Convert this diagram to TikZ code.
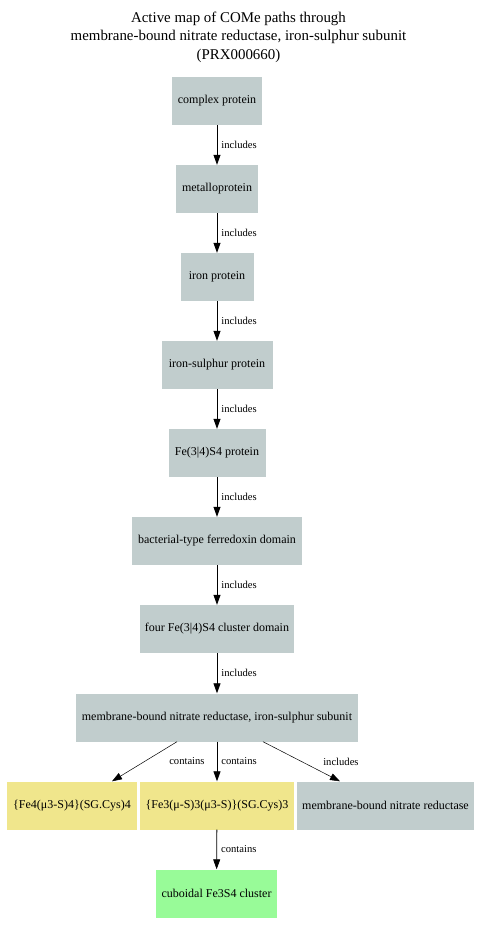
\documentclass[tikz,border=0pt]{standalone}
\usepackage{fontspec}
\setmainfont{Liberation Serif}
\usetikzlibrary{arrows.meta}
\definecolor{nodegray}{HTML}{C1CDCD}
\definecolor{nodekhaki}{HTML}{F0E68C}
\definecolor{nodegreen}{HTML}{98FB98}
\begin{document}
\begin{tikzpicture}[x=1pt,y=-1pt,
  box/.style={fill=nodegray,draw=none,minimum height=48,inner xsep=4,
    font=\fontsize{12}{13}\selectfont},
  chem/.style={box,fill=nodekhaki},
  cluster/.style={box,fill=nodegreen},
  rel/.style={-{Triangle[length=10pt,width=7pt]},line width=0.8pt},
  lbl/.style={font=\fontsize{10.6}{12}\selectfont,inner sep=0pt},
]
\useasboundingbox (0,0) rectangle (478,934);
% title
\node[font=\fontsize{14.9}{18.5}\selectfont,align=center] (title) at (238.5,37)
  {Active map of COMe paths through\\membrane-bound nitrate reductase, iron-sulphur subunit\\(PRX000660)};
% hierarchy
\node[box,minimum width=90] (cp) at (217,101) {complex protein};
\node[box,minimum width=82] (mp) at (217,189) {metalloprotein};
\node[box,minimum width=73] (ip) at (217,277) {iron protein};
\node[box,minimum width=111] (isp) at (217,365) {iron-sulphur protein};
\node[box,minimum width=97] (fsp) at (217,453) {Fe(3|4)S4 protein};
\node[box,minimum width=170] (bfd) at (217,541) {bacterial-type ferredoxin domain};
\node[box,minimum width=154] (fcd) at (217,629) {four Fe(3|4)S4 cluster domain};
\node[box,minimum width=282] (nrs) at (217,717.5) {membrane-bound nitrate reductase, iron-sulphur subunit};
\node[chem,minimum width=130] (fe4) at (72,805.5) {\{Fe4(μ3-S)4\}(SG.Cys)4};
\node[chem,minimum width=154] (fe3) at (217,805.5) {\{Fe3(μ-S)3(μ3-S)\}(SG.Cys)3};
\node[box,minimum width=177] (nr) at (385.5,805.5) {membrane-bound nitrate reductase};
\node[cluster,minimum width=121] (cub) at (216.5,893.5) {cuboidal Fe3S4 cluster};
% relations
\draw[rel] (cp) -- node[lbl,right=4pt] {includes} (mp);
\draw[rel] (mp) -- node[lbl,right=4pt] {includes} (ip);
\draw[rel] (ip) -- node[lbl,right=4pt] {includes} (isp);
\draw[rel] (isp) -- node[lbl,right=4pt] {includes} (fsp);
\draw[rel] (fsp) -- node[lbl,right=4pt] {includes} (bfd);
\draw[rel] (bfd) -- node[lbl,right=4pt] {includes} (fcd);
\draw[rel] (fcd) -- node[lbl,right=4pt] {includes} (nrs);
\draw[rel,line width=0.5pt] ([xshift=-40]nrs.south) -- node[lbl,anchor=west,xshift=24.5] {contains} ([xshift=40]fe4.north);
\draw[rel] (nrs) -- node[lbl,right=4pt] {contains} (fe3);
\draw[rel,line width=0.5pt] ([xshift=46]nrs.south) -- node[lbl,anchor=west,xshift=21.5] {includes} ([xshift=-45.5]nr.north);
\draw[rel] (fe3) -- node[lbl,right=4pt] {contains} (cub);
\end{tikzpicture}
\end{document}
